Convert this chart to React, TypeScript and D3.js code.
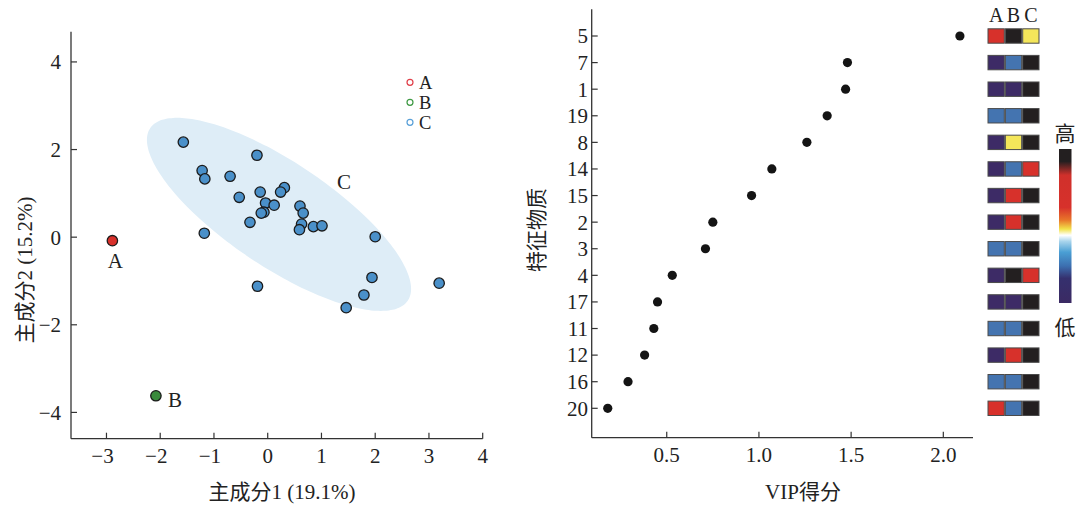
import React from "react";
import * as d3 from "d3";

// ---------- Left: PCA score plot ----------
const pcaXTicks = [-3, -2, -1, 0, 1, 2, 3, 4];
const pcaYTicks = [-4, -2, 0, 2, 4];
const pointA = [{ x: -2.89, y: -0.08 }];
const pointB = [{ x: -2.08, y: -3.62 }];
const pointsC = [
  { x: -1.57, y: 2.17 }, { x: -0.2, y: 1.87 }, { x: -1.22, y: 1.52 }, { x: -1.17, y: 1.33 },
  { x: -0.7, y: 1.39 }, { x: -0.53, y: 0.91 }, { x: -0.14, y: 1.03 }, { x: 0.31, y: 1.13 },
  { x: 0.24, y: 1.03 }, { x: -0.04, y: 0.78 }, { x: 0.12, y: 0.73 }, { x: 0.6, y: 0.71 },
  { x: 0.66, y: 0.55 }, { x: -0.07, y: 0.57 }, { x: -0.12, y: 0.55 }, { x: -0.33, y: 0.34 },
  { x: 0.63, y: 0.3 }, { x: 0.59, y: 0.17 }, { x: 0.85, y: 0.24 }, { x: 1.01, y: 0.26 },
  { x: -1.18, y: 0.09 }, { x: 2.0, y: 0.01 }, { x: 1.94, y: -0.92 }, { x: -0.19, y: -1.12 },
  { x: 3.19, y: -1.05 }, { x: 1.79, y: -1.32 }, { x: 1.46, y: -1.61 },
];
// confidence ellipse of group C: centre and two semi-axis vectors (data units)
const ellipseCenter = { x: 0.21, y: 0.52 };
const ellipseMajor = { x: 2.397, y: -1.968 };
const ellipseMinor = { x: -0.542, y: -0.993 };
const legendGroups = ["A", "B", "C"];

// ---------- Right: VIP plot ----------
const vipFeatures = ["5", "7", "1", "19", "8", "14", "15", "2", "3", "4", "17", "11", "12", "16", "20"];
const vipScores = [2.09, 1.48, 1.47, 1.37, 1.26, 1.07, 0.96, 0.75, 0.71, 0.53, 0.45, 0.43, 0.38, 0.29, 0.18];
const vipXTicks = [0.5, 1.0, 1.5, 2.0];
const heatGroups = ["A", "B", "C"];
// heat levels per feature (A, B, C): K=black(highest) R=red Y=yellow L=blue P=purple(lowest)
const heatLevels = [
  ["R", "K", "Y"], ["P", "L", "K"], ["P", "P", "K"], ["L", "L", "K"], ["P", "Y", "K"],
  ["P", "L", "R"], ["P", "R", "K"], ["P", "R", "K"], ["L", "L", "K"], ["P", "K", "R"],
  ["P", "P", "K"], ["L", "L", "K"], ["P", "R", "K"], ["L", "L", "K"], ["R", "L", "K"],
];

const FONT = "'Liberation Serif', 'Times New Roman', 'Noto Sans CJK SC', serif";
const groupColor: Record<string, string> = { A: "#d8302b", B: "#3a8a3c", C: "#4a90c9" };
const legendColor: Record<string, string> = { A: "#e0404a", B: "#3f9a44", C: "#5aa0d8" };
const levelColor: Record<string, string> = {
  K: "#231f20", R: "#d7312b", Y: "#f4e65a", L: "#4474b0", P: "#3d2b66",
};
const fmtTick = (v: number) => (v < 0 ? "\u2212" + Math.abs(v) : String(v));
const FS = 21;

export default function App() {
  // left scales
  const x1 = d3.scaleLinear().domain([-3.66, 4]).range([71, 482.7]);
  const y1 = d3.scaleLinear().domain([-4.6, 4.69]).range([438.7, 31.7]);
  // right scales
  const x2 = d3.scaleLinear().domain([0.093, 2.161]).range([591.7, 973]);
  const y2 = d3.scalePoint<string>().domain(vipFeatures).range([36, 408.3]);
  const hx = d3.scaleBand<string>().domain(heatGroups).range([988, 1039]).paddingInner(0.06);

  const ellPts = d3.range(0, 361, 3).map((deg) => {
    const t = (deg * Math.PI) / 180;
    return [
      x1(ellipseCenter.x + Math.cos(t) * ellipseMajor.x + Math.sin(t) * ellipseMinor.x),
      y1(ellipseCenter.y + Math.cos(t) * ellipseMajor.y + Math.sin(t) * ellipseMinor.y),
    ] as [number, number];
  });
  const ellPath = d3.line().curve(d3.curveCardinalClosed)(ellPts) || "";

  const axisColor = "#333";
  const tickLen = 6;

  const barStops = [
    [0, "#231f20"], [0.08, "#231f20"], [0.17, "#d0302b"], [0.38, "#d7312b"],
    [0.46, "#e8752a"], [0.52, "#f2e24a"], [0.56, "#ffffff"], [0.6, "#a8d4ec"],
    [0.67, "#4a9fd4"], [0.76, "#3c6fb0"], [0.84, "#35306e"], [1, "#3b2a63"],
  ];

  return (
    <svg width={1079} height={508} style={{ position: "absolute", left: 0, top: 0, background: "#fff" }} fontFamily={FONT}>
      <defs>
        <linearGradient id="heatbar" x1="0" y1="0" x2="0" y2="1">
          {barStops.map(([o, c], i) => (
            <stop key={i} offset={o as number} stopColor={c as string} />
          ))}
        </linearGradient>
      </defs>

      {/* ===== Left plot ===== */}
      <path d={ellPath} fill="#deedf7" />
      {/* axes */}
      <line x1={71} x2={71} y1={y1.range()[1]} y2={y1.range()[0]} stroke={axisColor} strokeWidth={1.3} />
      <line x1={71} x2={x1.range()[1]} y1={438.7} y2={438.7} stroke={axisColor} strokeWidth={1.3} />
      {pcaXTicks.map((t) => (
        <g key={"xt" + t}>
          <line x1={x1(t)} x2={x1(t)} y1={438.7} y2={438.7 - tickLen} stroke={axisColor} strokeWidth={1.2} />
          <text x={x1(t) - (t < 0 ? 4 : 0)} y={463} textAnchor="middle" fontSize={FS} fill="#222">{fmtTick(t)}</text>
        </g>
      ))}
      {pcaYTicks.map((t) => (
        <g key={"yt" + t}>
          <line x1={71} x2={71 + tickLen} y1={y1(t)} y2={y1(t)} stroke={axisColor} strokeWidth={1.2} />
          <text x={61} y={y1(t)} dy="0.35em" textAnchor="end" fontSize={FS} fill="#222">{fmtTick(t)}</text>
        </g>
      ))}
      <text x={282} y={499} textAnchor="middle" fontSize={FS} fill="#222">主成分1 (19.1%)</text>
      <text transform={`translate(32,${y1(-0.75)}) rotate(-90)`} textAnchor="middle" fontSize={FS} fill="#222">主成分2 (15.2%)</text>

      {/* points */}
      {pointsC.map((p, i) => (
        <circle key={"c" + i} cx={x1(p.x)} cy={y1(p.y)} r={5.2} fill={groupColor.C} stroke="#1b1b1b" strokeWidth={1.3} />
      ))}
      {pointA.map((p, i) => (
        <circle key={"a" + i} cx={x1(p.x)} cy={y1(p.y)} r={5.2} fill={groupColor.A} stroke="#1b1b1b" strokeWidth={1.3} />
      ))}
      {pointB.map((p, i) => (
        <circle key={"b" + i} cx={x1(p.x)} cy={y1(p.y)} r={5.2} fill={groupColor.B} stroke="#1b1b1b" strokeWidth={1.3} />
      ))}
      <text x={x1(pointA[0].x) + 3} y={y1(pointA[0].y) + 27} textAnchor="middle" fontSize={FS} fill="#222">A</text>
      <text x={x1(pointB[0].x) + 19} y={y1(pointB[0].y) + 11} textAnchor="middle" fontSize={FS} fill="#222">B</text>
      <text x={344} y={189} textAnchor="middle" fontSize={FS} fill="#222">C</text>

      {/* legend */}
      {legendGroups.map((g, i) => (
        <g key={"lg" + g}>
          <circle cx={410} cy={82.3 + i * 20} r={3} fill="none" stroke={legendColor[g]} strokeWidth={1.2} />
          <text x={419} y={82.3 + i * 20} dy="0.34em" fontSize={18.5} fill="#222">{g}</text>
        </g>
      ))}

      {/* ===== Right plot ===== */}
      <line x1={591.7} x2={591.7} y1={9.3} y2={437.7} stroke={axisColor} strokeWidth={1.3} />
      <line x1={591.7} x2={973} y1={437.7} y2={437.7} stroke={axisColor} strokeWidth={1.3} />
      {vipXTicks.map((t) => (
        <g key={"vx" + t}>
          <line x1={x2(t)} x2={x2(t)} y1={437.7} y2={437.7 - tickLen} stroke={axisColor} strokeWidth={1.2} />
          <text x={x2(t)} y={462} textAnchor="middle" fontSize={FS} fill="#222">{t.toFixed(1)}</text>
        </g>
      ))}
      {vipFeatures.map((f) => (
        <g key={"vy" + f}>
          <line x1={591.7} x2={591.7 + tickLen} y1={y2(f)} y2={y2(f)} stroke={axisColor} strokeWidth={1.2} />
          <text x={588} y={y2(f)} dy="0.35em" textAnchor="end" fontSize={FS} fill="#222">{f}</text>
        </g>
      ))}
      {vipFeatures.map((f, i) => (
        <circle key={"vd" + f} cx={x2(vipScores[i])} cy={y2(f)} r={4.6} fill="#141414" />
      ))}
      <text x={803} y={499} textAnchor="middle" fontSize={FS} fill="#222">VIP得分</text>
      <text transform={`translate(544,${230}) rotate(-90)`} textAnchor="middle" fontSize={FS} fill="#222">特征物质</text>

      {/* heatmap */}
      {heatGroups.map((g) => (
        <text key={"hg" + g} x={(hx(g) as number) + hx.bandwidth() / 2} y={22} textAnchor="middle" fontSize={20} fill="#222">{g}</text>
      ))}
      {vipFeatures.map((f, i) =>
        heatGroups.map((g, j) => (
          <rect
            key={"h" + f + g}
            x={hx(g) as number}
            y={(y2(f) as number) - 7.2}
            width={hx.bandwidth()}
            height={14.4}
            fill={levelColor[heatLevels[i][j]]}
            stroke="#4a4a4a"
            strokeWidth={1}
          />
        ))
      )}

      {/* colour bar */}
      <rect x={1059} y={149} width={12.5} height={154} fill="url(#heatbar)" />
      <text x={1065} y={141} textAnchor="middle" fontSize={FS} fill="#222">高</text>
      <text x={1065} y={335} textAnchor="middle" fontSize={FS} fill="#222">低</text>
    </svg>
  );
}
